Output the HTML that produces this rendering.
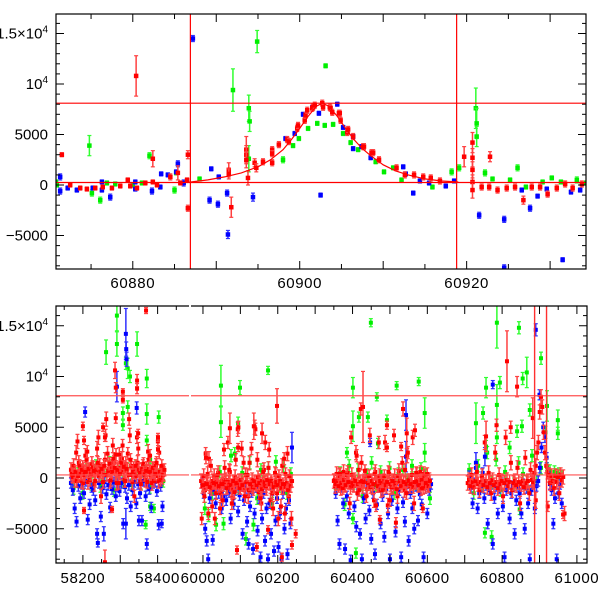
<!DOCTYPE html>
<html><head><meta charset="utf-8">
<style>
html,body{margin:0;padding:0;background:#fff;}
svg{display:block;font-family:"Liberation Sans",Helvetica,sans-serif;}
</style></head>
<body>
<svg id="chart" width="600" height="600" viewBox="0 0 600 600" xmlns="http://www.w3.org/2000/svg"></svg>
<script>
// ===== TOP PANEL DATA (zoom on event) =====
const topRedT=[60871.5,60872.5,60873.7,60874.5,60875.5,60876.4,60877.5,60878.5,60879.4,60879.7,60880.5,60880.4,60881.5,60882.4,60882.4,60882.9,60884.5,60885.4,60885.7,60886.5,60886.6,60886.6,60891.5,60891.5,60891.8,60893.6,60893.6,60893.6,60893.8,60894.6,60894.8,60895.6,60896.7,60896.7,60896.7,60897.5,60898.5,60898.7,60899.7,60899.8,60900.6,60900.7,60900.9,60901.5,60901.6,60901.8,60902.7,60902.8,60903.6,60903.7,60903.9,60904.7,60904.8,60904.9,60905.7,60905.8,60906.4,60907.6,60907.7,60908.6,60908.8,60909.5,60911.6,60912.6,60913.7,60914.8,60915.7,60916.8,60919.7,60920.7,60920.7,60920.7,60920.7,60920.7,60921.8,60922.7,60922.8,60923.7,60924.8,60925.8,60926.8,60927.8,60928.8,60929.7,60930.8,60931.8,60932.7,60933.8];
const topRedV=[3000,0,-300,-400,-300,-200,-300,-100,500,-100,-300,10800,200,300,2600,0,800,1200,200,500,3000,-2300,1500,1100,-2200,3500,3000,2500,700,2200,1700,2300,3500,3100,2200,4000,4500,4300,5600,5900,6400,6900,7400,7600,7700,7900,8100,7700,7700,7600,7200,7100,7100,6400,5200,5500,4800,3800,3800,3200,3200,2500,1700,1000,1000,800,700,400,2800,4200,2700,1500,300,-500,-200,-200,2800,-500,-300,-200,-1500,-200,-200,-900,-300,100,-300,100];
const topRedE=[200,200,200,200,200,200,200,200,200,200,200,2000,200,200,800,200,300,700,200,200,400,300,700,500,1000,1300,900,800,700,400,400,300,300,300,300,300,300,300,300,300,300,300,300,300,300,300,300,300,300,300,300,300,300,300,300,300,300,300,300,300,300,300,300,300,300,300,300,300,1000,1000,900,800,700,800,300,300,500,300,300,300,400,300,300,300,300,300,300,300];
const topBlueT=[60871.3,60871.3,60872.2,60873.3,60875.2,60876.3,60876.3,60877.3,60880.3,60880.3,60882.3,60883.3,60883.4,60884.2,60885.2,60885.4,60886.1,60887.2,60889.4,60889.2,60890.3,60890.2,60891.3,60891.4,60894.4,60898.3,60899.4,60900.4,60901.5,60902.3,60902.5,60904.5,60905.2,60906.4,60906.4,60907.4,60908.5,60912.4,60912.7,60914.4,60915.5,60917.5,60918.5,60913.6,60921.5,60924.5,60924.5,60926.6,60927.6,60928.5,60929.6,60931.5,60932.5,60933.6];
const topBlueV=[800,-600,-300,-500,-300,-500,300,-1200,300,-400,-600,-200,1100,1000,1300,2100,200,14500,1600,-1500,800,-1900,-800,-4900,-1200,4600,5100,7000,7700,7100,-1000,8000,5700,4800,3600,3800,2700,1800,1100,400,200,-100,400,-800,-3000,-3400,-8200,-500,-2300,-1100,-400,-7400,-700,-500];
const topBlueE=[300,300,200,200,200,200,200,300,200,200,300,200,200,200,200,300,300,300,200,300,200,300,300,400,400,200,200,200,200,200,200,200,200,200,200,200,200,200,200,200,200,200,200,200,300,300,300,200,300,200,200,200,200,200];
const topGreenT=[60870.8,60870.9,60874.8,60875.1,60876.1,60876.9,60877.9,60880.0,60881.1,60882.0,60885.0,60885.2,60888.0,60892.0,60894.9,60893.9,60894.0,60893.9,60898.0,60899.2,60899.9,60901.0,60902.1,60903.0,60904.0,60903.1,60905.2,60906.1,60907.0,60909.1,60910.1,60911.2,60912.2,60915.9,60918.2,60919.1,60921.1,60921.2,60921.2,60922.2,60923.1,60925.2,60926.1,60927.1,60929.1,60930.2,60931.3,60933.2,60934.3];
const topGreenV=[300,0,3900,-800,-1500,200,100,0,200,2900,-500,1200,600,9400,14200,7600,6300,2600,2500,3900,4600,5600,6100,5900,6000,11800,5100,4200,3500,2300,1300,1700,500,-200,1300,1700,7600,6100,4800,1200,600,500,1700,-200,300,700,300,500,200];
const topGreenE=[200,200,1000,300,300,200,200,200,200,300,300,200,200,2100,1100,1300,1000,1300,300,200,200,200,200,200,200,200,200,200,200,200,200,200,200,200,300,300,2000,1500,1000,300,200,200,300,200,200,200,200,300,200];
const modelT=[60886.5,60889,60891,60893,60895,60896.5,60898,60899,60900,60901,60902,60902.7,60903.5,60904.5,60905.5,60906.5,60907.5,60908.5,60910,60911.5,60913,60915,60917,60919];
const modelV=[250,500,800,1200,1800,2500,3500,4500,5600,6800,7800,8100,7800,6800,5600,4500,3600,2900,2000,1400,1000,600,400,300];
const topHLines=[8100,250];
const eventVLines=[60886.9,60918.8];
const topYTickLabels=["1.5×10⁴","10⁴","5000","0","−5000"];
const topYTickValues=[15000,10000,5000,0,-5000];
const topXTickValues=[60880,60900,60920];

// ===== BOTTOM PANEL DATA (full light curve) =====
const redBand1Start=58168, redBand1Step=3.5;
const redBand1=[800,300,1200,-200,2500,3600,1500,400,-300,1000,600,2200,1800,-400,700,300,1400,900,-600,500,2900,4000,1200,-1800,600,300,1800,5800,2400,900,-300,1100,3200,1500,400,-500,800,2300,1000,1900,600,-200,1400,700,300,4200,1200,-400,900,600,200,1500,800,-300,700,1100,400,-200,900,2600,600,300,-500,800,400,1200,200,-300,600,300,100,400];
const redBand2Start=59995, redBand2Step=3.5;
const redBand2=[-300,-800,200,-1200,-500,400,1900,-600,-1000,-300,200,-700,-400,500,-900,-1500,-300,-600,1000,-200,-800,-400,600,-1100,-2000,-500,100,-700,4800,-300,-900,2900,-600,-1200,300,-400,-1800,1500,-700,-200,-1000,5000,-500,1800,-1400,-300,-2500,-700,800,3500,-1000,-400,2800,-2200,-600,-3000,-800,300,-1500,-4000,-500,-2800,1200,-900,-3500,-600,2400,-1800,-700,-4000];
const redBand3Start=60350, redBand3Step=3.7;
const redBand3=[-300,-800,400,-500,200,-1000,-200,600,-700,-300,500,-400,-900,300,-600,-200,2500,-1500,800,-400,1500,-800,-300,200,-1100,-500,4200,-300,-900,-2200,600,-400,-700,200,-1200,-500,-300,3500,-800,-2700,400,-600,-300,-900,200,-500,-1800,700,-400,-300,6800,-1200,-600,2200,-300,-800,-500,4000,-2500,-400,300,-700,-200,-1000,-500,400,-800,-300,-600,-200];
const redBand4Start=60708, redBand4Step=3.5;
const redBand4=[-500,-200,-800,300,-400,-900,-300,600,-600,-1200,-400,200,-700,3500,-300,-900,500,-500,-1500,-200,-700,2500,-400,-1000,300,-600,-300,-1800,-500,4000,-200,-800,-400,1500,-1200,-500,-300,-700,1000,-400,-2500,-600,-300,-900,2000,-500,-300,-1500,800,-200,-400,500,1200,2500,3500,6500,8000,7000,4500,2500,1200,600,300,-500,200,-300,-1000,200,-400,100,-1500,300,-200,100,-3500];
const blueBand1Start=58168, blueBand1Step=5;
const blueBand1=[-500,-1200,-3000,-4300,-800,-2000,-600,-1500,-300,-4100,-2600,-900,-1200,-2200,-5500,-500,-3800,-1000,-400,-1600,-700,-2900,-1100,-400,-1800,-600,-1300,-500,-4500,-900,-2000,-700,-2800,-1200,-400,-2500,-600,-1500,-4200,-300,-1800,-700,-1100,-2900,-500,-400,-1300,-4600,-800,-2800];
const blueBand2Start=59998, blueBand2Step=4;
const blueBand2=[-500,-1500,-5000,-6200,-8000,-2000,-800,-6100,-1200,-2500,-700,-1500,-900,-3000,-1800,-600,-2200,-1000,-1400,-4000,-700,-2600,-1200,-900,-3300,-1700,-600,-5500,-2200,-1000,-4300,-6500,-2800,-1400,-7000,-3500,-900,-5200,-2000,-7800,-4000,-1500,-6200,-3000,-8000,-2500,-5500,-1200,-7200,-4200,-2000,-6800,-3500,-8000,-1500,-5000,-3000,-7500,-2200,-4500];
const blueBand3Start=60355, blueBand3Step=5;
const blueBand3=[-1500,-4200,-6500,-900,-2500,-7000,-1800,-3500,-8100,-600,-2800,-4800,-1200,-5500,-8000,-2000,-4000,-700,-3200,-6000,-1500,-7500,-2600,-900,-4500,-1800,-5800,-1100,-3500,-8000,-2200,-600,-5300,-3000,-1200,-7800,-2400,-4300,-900,-6200,-1500,-3000,-5000,-800,-4200,-1600,-2600,-7800,-1000,-3500,-1200,-600];
const blueBand4Start=60712, blueBand4Step=4.5;
const blueBand4=[200,-1000,-2500,-500,1000,-3000,-1500,-800,500,-2000,-700,-4500,-1200,-600,-6500,-2000,-800,-3500,-1000,-500,-2800,-7800,-1200,-600,-4000,-1500,-800,-5500,-2200,-900,-1500,-3500,-600,-5000,-1000,-2500,-8000,-1200,-500,-3000,-800,-300,1000,3000,5000,4000,2000,500,-600,-1200,-4500,-2000,-8000,-1500,-600,-2500];
const greenBand1Start=58175, greenBand1Step=12;
const greenBand1=[-1000,400,-1500,800,-600,1200,-800,300,1500,-1200,600,-400,900,-700,1100,-500,700,-900,400,200,-300];
const greenBand2Start=60005, greenBand2Step=10;
const greenBand2=[-3000,-3700,-1500,-4600,600,-4500,-800,2200,2400,-1000,500,-6000,1500,-4600,-2000,800,-300,1000,-2500,1600,-800,1200,-1500,400];
const greenBand3Start=60355, greenBand3Step=12;
const greenBand3=[-1000,500,-2600,1200,-500,800,-1800,300,1500,-700,600,-300,1000,-1500,400,800,-200,1200,-600,900,300,-2000];
const greenBand4Start=60712, greenBand4Step=12;
const greenBand4=[800,-1500,1200,-800,2500,-400,1800,-1200,600,3000,-600,1500,400,-900,2200,-300,1000,4500,700,600,400];
const redOutT=[58200,58203,58203,58254,58259,58259,58278,58286,58288,58288,58307,58307,58345,58345,58348,58369,58401,58401,60008,60072,60091,60094,60136,60144,60158,60174,60198,60211,60238,60248,60428,60492,60492,60545,60567,60530,60516,60473,60588,60757,60813,60840,60823,60785,60882,60890,60922,60963];
const redOutV=[5100,3700,-3200,5000,4000,-8300,-3100,10600,8900,5900,8500,7700,9600,8800,4400,16500,4000,2800,2000,4900,-7100,3000,5100,-6800,4400,-5100,7100,-7800,-6600,-5500,7000,5200,3000,4400,4700,3100,-4400,-4100,-3000,4100,11500,9000,5000,5200,5900,-2200,-2800,-3600];
const redOutE=[400,400,300,400,400,1200,300,800,500,500,300,300,600,500,400,300,400,400,600,1500,400,400,1300,400,1000,400,1700,400,400,400,3500,400,400,1500,600,400,500,400,400,1500,3000,1000,600,600,2000,800,500,400];
const blueOutT=[58206,58291,58315,58316,58317,58344,58240,58256,58315,58371,58411,58350,60238,60543,60447,60543,60775,60890,60900,60730,60754];
const blueOutV=[6500,9000,14200,12700,11700,6900,-6400,-5500,-4500,-6500,-4500,-4200,3000,6200,3500,2100,9200,14600,8200,1500,2100];
const blueOutE=[500,1500,2500,700,700,600,400,700,1500,500,400,500,1500,1500,400,1500,400,600,500,1000,900];
const greenOutT=[58262,58291,58291,58345,58371,58326,58371,58403,58307,58320,58307,58371,58380,58380,58390,58368,58320,58315,60048,60048,60099,60094,60174,60401,60401,60449,60465,60518,60577,60593,60593,60417,60441,60492,60468,60385,60401,60409,60786,60845,60904,60866,60855,60757,60794,60749,60730,60757,60786,60786,60840,60853,60874,60920,60949,60949,60754,60772,60847,60920,60944,60960];
const greenOutV=[12400,13200,16000,13200,9800,10000,6300,6000,6400,7000,5200,3700,1800,-2800,-3000,-4600,10800,11300,9100,5500,8900,5400,10600,8900,5100,15300,8000,9100,9500,6400,2500,6000,6000,5700,3400,2500,-4000,-7400,15300,14800,11800,10400,9800,8900,9400,6400,5400,3100,7200,4000,4600,5100,6700,7100,5700,4400,-5400,-5800,-3100,1100,500,300];
const greenOutE=[1200,1200,1500,1200,900,600,1000,600,600,600,500,500,400,400,400,400,1000,600,2000,1500,700,600,400,1000,1500,400,400,400,400,1500,900,500,500,500,500,500,500,500,2500,600,600,1500,600,1000,600,600,2000,600,2000,600,600,600,600,1500,1000,600,500,600,500,400,400,400];
const botHLines=[8100,300];
const botYTickLabels=["1.5×10⁴","10⁴","5000","0","−5000"];
const botYTickValues=[15000,10000,5000,0,-5000];
const botXTickValues=[58200,58400,60000,60200,60400,60600,60800,61000];

// ===== RENDERING =====
const NS='http://www.w3.org/2000/svg';
const svg=document.getElementById('chart');
function mk(tag,attrs,parent){const e=document.createElementNS(NS,tag);for(const k in attrs)e.setAttribute(k,attrs[k]);(parent||svg).appendChild(e);return e;}
const COL={red:'#ff0000',blue:'#0000ff',green:'#00ee00'};
const ERRCOL={red:'#ff4040',blue:'#3030ff',green:'#30ff30'};

const T={x0:56,x1:586,y0:14,y1:269,t0:60870.8,t1:60934.3};
const xTop=t=>T.x0+(t-T.t0)*(T.x1-T.x0)/(T.t1-T.t0);
const yTop=v=>185-v*0.0101;
const B={y0:306,y1:563};
const seg1={x0:56,x1:189,t0:58128,t1:58484};
const seg2={x0:191,x1:587,t0:59968,t1:61027};
const yBot=v=>478-v*0.01015;
function xBot(t){const s=t<59000?seg1:seg2;return s.x0+(t-s.t0)*(s.x1-s.x0)/(s.t1-s.t0);}

const defs=mk('defs',{});
const cp1=mk('clipPath',{id:'clipTop'},defs);mk('rect',{x:T.x0,y:T.y0,width:T.x1-T.x0,height:T.y1-T.y0},cp1);
const cp2=mk('clipPath',{id:'clipS1'},defs);mk('rect',{x:seg1.x0,y:B.y0,width:seg1.x1-seg1.x0,height:B.y1-B.y0},cp2);
const cp3=mk('clipPath',{id:'clipS2'},defs);mk('rect',{x:seg2.x0,y:B.y0,width:seg2.x1-seg2.x0,height:B.y1-B.y0},cp3);

function point(g,x,y,ey,col,name,sz){
  const grp=mk('g',{},g);
  
  
  if(ey>1.5){
    mk('line',{x1:x,y1:y-ey,x2:x,y2:y+ey,stroke:ERRCOL[col],'stroke-width':1.5},grp);
    mk('line',{x1:x-2,y1:y-ey,x2:x+2,y2:y-ey,stroke:ERRCOL[col],'stroke-width':1.2},grp);
    mk('line',{x1:x-2,y1:y+ey,x2:x+2,y2:y+ey,stroke:ERRCOL[col],'stroke-width':1.2},grp);
  }
  mk('rect',{x:x-sz/2,y:y-sz/2,width:sz,height:sz,fill:COL[col]},grp);
}

const gTop=mk('g',{'clip-path':'url(#clipTop)'});


function drawTop(ts,vs,es,col){for(let i=0;i<ts.length;i++){point(gTop,xTop(ts[i]),yTop(vs[i]),es[i]*0.0101,col,'top-'+col+'-point',4.5);}}
drawTop(topGreenT,topGreenV,topGreenE,'green');
drawTop(topBlueT,topBlueV,topBlueE,'blue');
drawTop(topRedT,topRedV,topRedE,'red');
let d='';modelT.forEach((t,i)=>{d+=(i?'L':'M')+xTop(t).toFixed(1)+','+yTop(modelV[i]).toFixed(1);});
const model=mk('path',{d:d,fill:'none',stroke:'#ff0000','stroke-width':1.2},gTop);


topHLines.forEach(v=>{const l=mk('line',{x1:T.x0,x2:T.x1,y1:yTop(v),y2:yTop(v),stroke:'#ff0000','stroke-width':1.2},gTop);
  
  });
eventVLines.forEach(t=>{const l=mk('line',{x1:xTop(t),x2:xTop(t),y1:T.y0,y2:T.y1,stroke:'#ff0000','stroke-width':1.2},gTop);
  
  });

const gS1=mk('g',{'clip-path':'url(#clipS1)'});


const gS2=mk('g',{'clip-path':'url(#clipS2)'});


function bp(t,v,e,col){point(t<59000?gS1:gS2,xBot(t),yBot(v),e*0.01015,col,'bottom-'+col+'-point',4);}
function band(start,step,vals,err,col){vals.forEach((v,i)=>bp(start+step*i,v,err,col));}
function outs(ts,vs,es,col){ts.forEach((t,i)=>bp(t,vs[i],es[i],col));}
band(greenBand1Start,greenBand1Step,greenBand1,600,'green');
band(greenBand2Start,greenBand2Step,greenBand2,600,'green');
band(greenBand3Start,greenBand3Step,greenBand3,600,'green');
band(greenBand4Start,greenBand4Step,greenBand4,600,'green');
outs(greenOutT,greenOutV,greenOutE,'green');
band(blueBand1Start,blueBand1Step,blueBand1,500,'blue');
band(blueBand2Start,blueBand2Step,blueBand2,500,'blue');
band(blueBand3Start,blueBand3Step,blueBand3,500,'blue');
band(blueBand4Start,blueBand4Step,blueBand4,500,'blue');
outs(blueOutT,blueOutV,blueOutE,'blue');
band(redBand1Start,redBand1Step,redBand1,700,'red');
band(redBand2Start,redBand2Step,redBand2,700,'red');
band(redBand3Start,redBand3Step,redBand3,700,'red');
band(redBand4Start,redBand4Step,redBand4,700,'red');
band(redBand1Start+1.7,redBand1Step,redBand1.slice().reverse(),600,'red');
band(redBand2Start+1.7,redBand2Step,redBand2.slice().reverse(),600,'red');
band(redBand3Start+1.8,redBand3Step,redBand3.slice().reverse(),600,'red');
outs(redOutT,redOutV,redOutE,'red');
[gS1,gS2].forEach((g,k)=>{const s=k?seg2:seg1;botHLines.forEach(v=>{const l=mk('line',{x1:s.x0,x2:s.x1,y1:yBot(v),y2:yBot(v),stroke:'#ff5050','stroke-width':1.2},g);
  
  });});
eventVLines.forEach(t=>{const l=mk('line',{x1:xBot(t),x2:xBot(t),y1:B.y0,y2:B.y1,stroke:'#ff3030','stroke-width':1.4},gS2);
  
  });

function frame(x0,y0,x1,y1,name){const r=mk('rect',{x:x0,y:y0,width:x1-x0,height:y1-y0,fill:'none',stroke:'#000','stroke-width':1.2});
  
  }
function seg(x1,y1,x2,y2){mk('line',{x1:x1,y1:y1,x2:x2,y2:y2,stroke:'#000','stroke-width':1.2});}
frame(T.x0,T.y0,T.x1,T.y1,'top-panel-frame');
const bf=mk('g',{});


mk('path',{d:`M${seg1.x1},${B.y0}H${seg1.x0}V${B.y1}H${seg1.x1}M${seg2.x0},${B.y0}H${seg2.x1}V${B.y1}H${seg2.x0}`,fill:'none',stroke:'#000','stroke-width':1.2},bf);
function tick(x1,y1,x2,y2){mk('line',{x1:x1,y1:y1,x2:x2,y2:y2,stroke:'#000','stroke-width':1});}
function label(x,y,txt,name){
  const t=mk('text',{x:x,y:y,'font-size':15,'text-anchor':'end',fill:'#000'});
  
  
  const m=txt.match(/^(.*10)(⁴)$/);
  if(m){t.textContent=m[1];const s=mk('tspan',{'font-size':10,dy:-6},t);s.textContent='4';}
  else t.textContent=txt;
  return t;
}
function xlabel(x,y,txt,name){const t=mk('text',{x:x,y:y,'font-size':15,'text-anchor':'middle','letter-spacing':0.6,fill:'#000'});t.textContent=txt;
  
  }
for(let v=-8000;v<=16000;v+=1000){const y=yTop(v);if(y<T.y0||y>T.y1)continue;const L=v%5000===0?8:4;tick(T.x0,y,T.x0+L,y);tick(T.x1,y,T.x1-L,y);}
topYTickValues.forEach((v,i)=>label(48,yTop(v)+5,topYTickLabels[i],'top-y-tick-label'));
for(let t=60875;t<=60934;t+=5){const x=xTop(t);const L=t%10===0?8:5;tick(x,T.y1,x,T.y1-L);tick(x,T.y0,x,T.y0+L);}
topXTickValues.forEach(t=>xlabel(xTop(t),288,String(t),'top-x-tick-label'));
for(let v=-8000;v<=16000;v+=1000){const y=yBot(v);if(y<B.y0||y>B.y1)continue;const L=v%5000===0?8:4;tick(seg1.x0,y,seg1.x0+L,y);tick(seg2.x1,y,seg2.x1-L,y);}
botYTickValues.forEach((v,i)=>label(48,yBot(v)+5,botYTickLabels[i],'bottom-y-tick-label'));
[seg1,seg2].forEach(s=>{for(let t=Math.ceil(s.t0/50)*50;t<=s.t1;t+=50){const x=xBot(t);if(x<s.x0||x>s.x1)continue;const L=t%100===0?8:4;tick(x,B.y1,x,B.y1-L);tick(x,B.y0,x,B.y0+L);}});
botXTickValues.forEach(t=>xlabel(xBot(t),583,String(t),'bottom-x-tick-label'));
</script>
</body></html>
